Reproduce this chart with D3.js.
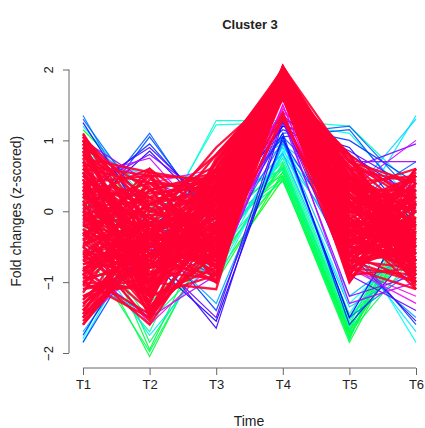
<!DOCTYPE html>
<html>
<head>
<meta charset="utf-8">
<script src="https://cdn.jsdelivr.net/npm/d3@7"></script>
<style>
  body { margin: 0; background: #fff; }
  text { font-family: "Liberation Sans", Arial, Helvetica, sans-serif; fill: #222; }
</style>
</head>
<body>
<div id="chart"></div>
<script>
// time points
const timePoints = ['T1', 'T2', 'T3', 'T4', 'T5', 'T6'];
const yTicks = [-2, -1, 0, 1, 2];

// low membership profiles: [membership, T1..T6]
const outerProfiles = [
  [0.01, -0.1, -0.6, -0.9, 0.45, -1.8, 0.1],
  [0.02, 0.3, -0.2, -0.7, 0.5, -1.75, -0.2],
  [0.03, 1.15, 0.2, -0.2, 0.62, -1.7, -0.3],
  [0.04, -0.4, 0.1, -1.0, 0.55, -1.7, 0.3],
  [0.05, -0.3, -2.05, -0.2, 0.45, -1.85, -0.1],
  [0.06, 0.2, -1.95, 0.0, 0.5, -1.78, 0.2],
  [0.07, 0.0, -0.5, -0.5, 0.6, -1.65, -0.1],
  [0.08, 0.25, -1.85, -0.4, 0.55, -1.72, -0.6],
  [0.09, -0.5, -1.98, -0.3, 0.42, -1.68, -0.4],
  [0.10, 0.95, -0.15, -0.55, 0.65, -1.62, -0.3],
  [0.11, -0.6, -0.3, -0.8, 0.68, -1.6, 0.2],
  [0.12, -0.2, -1.55, -0.6, 0.48, -1.82, 0.45],
  [0.13, 0.6, -0.9, 0.1, 0.6, -1.5, -0.5],
  [0.14, -0.6, -1.7, 0.2, 0.58, -1.65, -0.2],
  [0.15, 0.1, -1.3, -0.3, 0.7, -1.55, 0.0],
  [0.16, 0.2, -0.8, -0.6, 0.75, -1.5, -0.3],
  [0.18, -0.3, 0.0, -0.9, 0.8, -1.45, 0.0],
  [0.20, 0.5, -0.5, 1.28, 1.28, 1.2, 0.3],
  [0.22, 0.2, -0.4, 1.22, 1.25, 1.1, 0.1],
  [0.24, -1.85, -0.1, -1.0, 0.85, -0.3, -1.85],
  [0.25, -1.8, 0.1, -0.8, 0.9, -1.3, -0.4],
  [0.27, 1.2, 0.1, 0.35, 0.9, -0.2, 1.35],
  [0.28, -0.4, -1.75, -0.6, 0.8, -0.5, -1.7],
  [0.30, 0.8, 0.5, 0.5, 0.95, 0.2, 1.3],
  [0.32, -1.0, -1.45, -0.2, 0.82, -1.35, -0.8],
  [0.33, 1.0, 0.3, 0.45, 1.0, -1.2, -0.5],
  [0.35, -1.7, -0.4, -1.3, 0.95, -0.7, -1.5],
  [0.40, 1.35, -0.3, -0.6, 1.0, -1.5, -0.8],
  [0.42, 1.3, 0.0, 0.45, 1.05, 0.1, 0.7],
  [0.43, -0.1, 1.1, -0.3, 1.1, 1.2, 0.2],
  [0.45, -0.2, 1.05, -0.2, 1.05, 1.15, 0.0],
  [0.46, -1.85, -0.3, -1.4, 1.0, -0.5, -1.6],
  [0.48, 0.2, 0.95, -0.1, 1.2, 1.0, 0.4],
  [0.50, -1.75, -0.2, -0.5, 1.1, -1.6, -0.5],
  [0.52, 1.25, -0.2, 0.3, 1.15, 0.8, 0.2],
  [0.53, -0.2, -0.7, -1.55, 1.05, -1.5, 0.1],
  [0.55, 0.0, 0.85, -0.1, 1.2, 0.9, -0.2],
  [0.60, -1.6, -0.5, -1.65, 1.25, -0.6, -1.55],
  [0.62, 0.3, 0.9, 0.0, 1.3, 0.85, 0.3],
  [0.64, -1.3, -0.6, -1.5, 1.3, -0.9, -1.4],
  [0.66, 0.3, 0.8, 0.1, 1.35, 0.6, 0.95],
  [0.68, -1.5, -0.5, -0.9, 1.28, -1.2, -0.9],
  [0.70, 1.0, 0.4, 0.1, 1.4, 0.7, 0.7],
  [0.72, -0.8, -1.5, -0.9, 1.35, -1.3, -1.0],
  [0.74, 0.5, 0.75, -0.3, 1.45, 0.3, 1.0],
  [0.78, -1.55, -0.7, -1.0, 1.5, -0.8, -1.3],
  [0.80, 0.9, 0.4, 0.6, 1.55, 0.6, 0.3],
  [0.82, -0.4, -1.6, -0.7, 1.5, -0.8, -1.2]
];

// core profiles (high membership): T1..T6
const coreProfiles = [
  [0.9, -0.3, 0.2, 1.9, 0.4, -0.5],
  [-1.2, -0.8, -0.5, 2.0, -0.6, -0.2],
  [0.4, 0.5, -0.8, 1.8, 0.1, 0.3],
  [-0.6, -1.4, 0.3, 1.95, -0.9, -0.8],
  [1.05, 0.1, -0.2, 1.7, 0.6, -0.4],
  [-1.5, -0.2, -0.7, 2.02, -0.3, 0.5],
  [0.2, -0.9, 0.6, 1.85, -0.7, -1.0],
  [-0.9, 0.4, -0.1, 1.6, 0.8, 0.1],
  [0.7, -1.2, -0.9, 2.0, -0.2, -0.6],
  [-0.1, 0.0, 0.8, 1.75, 0.3, 0.6],
  [-1.6, -0.5, -0.3, 1.9, -0.8, -0.4],
  [0.5, -0.5, 0.1, 2.04, 0.5, -1.1],
  [-0.4, 0.6, -0.6, 1.3, -0.5, 0.2],
  [1.0, -1.0, 0.4, 1.95, 0.0, -0.9],
  [-1.0, -0.6, -1.0, 1.85, 0.7, -0.1],
  [0.0, -1.3, 0.5, 1.7, -1.0, 0.4],
  [-0.7, 0.3, 0.0, 2.0, -0.4, -0.7],
  [0.8, -0.1, -0.5, 1.65, 0.2, 0.0],
  [-1.3, -0.6, 0.2, 1.9, -0.1, -0.5],
  [0.3, 0.2, -0.4, 2.03, -0.9, 0.3],
  [-0.2, -0.7, 0.7, 1.8, 0.4, -0.3],
  [1.1, -0.4, -0.7, 1.35, -0.6, -1.0],
  [-0.8, -1.6, -0.2, 1.95, 0.1, 0.5],
  [0.6, 0.4, 0.3, 1.9, 0.6, -0.2],
  [-1.4, -0.3, -0.8, 1.7, -0.7, -0.8],
  [0.1, -1.0, -1.1, 2.0, 0.3, 0.0],
  [-0.5, 0.1, 0.5, 1.85, -0.2, -1.1],
  [0.95, -0.8, 0.0, 1.6, -0.8, 0.6],
  [-1.1, -0.8, -0.6, 2.05, 0.5, -0.6],
  [0.35, -0.2, 0.9, 1.75, 0.0, -0.4],
  [-0.3, -0.9, -0.3, 1.9, -1.0, 0.2],
  [0.75, 0.55, -0.9, 1.8, 0.8, -0.7],
  [-1.55, -0.5, 0.1, 1.65, 0.2, -0.3],
  [0.15, -1.45, -0.5, 1.95, -0.5, 0.1],
  [-0.9, -0.1, 0.6, 2.0, -0.3, -0.9],
  [0.55, -0.6, -0.2, 1.85, 0.7, 0.4],
  [-0.15, 0.35, -1.0, 1.7, -0.6, -0.5],
  [-1.25, -0.4, 0.4, 1.9, 0.4, 0.0],
  [1.0, 0.0, 0.2, 2.02, -0.1, -0.8],
  [-0.6, -0.4, -0.4, 1.4, -0.9, 0.5],
  [0.45, -1.1, 0.7, 1.95, 0.1, -1.0],
  [-0.35, 0.5, -0.7, 1.8, 0.5, -0.2],
  [-1.45, -0.6, -0.1, 2.0, -0.4, 0.3],
  [0.25, -0.3, 0.5, 1.6, -0.7, -0.6],
  [0.85, -1.4, -0.6, 1.9, 0.3, 0.2],
  [-0.05, 0.2, 0.1, 1.75, 0.8, -0.9],
  [-1.0, -1.5, 0.6, 1.95, -0.2, -0.4],
  [0.65, -0.7, -0.9, 2.03, -0.6, 0.6],
  [-0.45, -0.2, -0.2, 1.65, 0.0, -0.1],
  [-1.35, 0.1, 0.3, 1.85, 0.6, -0.7],
  [0.05, -1.2, -0.8, 1.9, -0.8, -0.3],
  [0.9, 0.3, 0.5, 1.7, 0.2, 0.0],
  [-0.75, -0.5, -0.5, 2.0, 0.4, -1.05],
  [0.4, -1.0, 0.0, 1.8, -0.3, 0.4],
  [-0.25, -1.35, -0.6, 1.6, -0.5, -0.6],
  [-1.5, -0.4, 0.5, 1.95, -0.7, 0.1],
  [0.7, 0.0, -0.3, 1.85, 0.5, -0.5],
  [-0.85, 0.45, 0.2, 1.75, -0.1, -0.8],
  [0.3, -0.6, -0.7, 2.04, 0.7, 0.2],
  [-0.55, -1.25, 0.4, 1.9, 0.0, -0.2],
  [1.05, -0.5, 0.3, 1.8, -0.4, -0.3],
  [-0.95, -0.15, -0.9, 1.95, 0.3, 0.3],
  [0.2, 0.6, -0.1, 1.7, -0.8, -0.9],
  [-1.2, -1.0, 0.7, 2.0, 0.6, -0.4],
  [0.55, -1.5, -0.4, 1.85, -0.2, 0.5],
  [-0.1, -0.3, 0.6, 1.6, 0.1, -1.0],
  [0.8, 0.2, -1.0, 1.9, -0.6, 0.1],
  [-0.65, -0.8, 0.1, 1.75, 0.8, -0.6],
  [-1.6, -0.3, -0.5, 1.95, -0.3, -0.1],
  [0.35, 0.1, 0.5, 2.02, 0.4, -0.7],
  [-0.3, -1.4, -0.2, 1.65, -0.9, 0.4],
  [0.6, -0.35, 0.8, 1.85, 0.0, -0.2],
  [-1.05, 0.3, -0.6, 1.9, 0.5, -0.9],
  [0.0, -0.65, -0.3, 2.0, -0.5, 0.6],
  [1.0, -1.1, 0.2, 1.7, 0.3, -0.5],
  [-0.5, 0.55, 0.4, 1.8, -0.7, 0.0],
  [-1.4, -0.45, -1.0, 1.95, 0.2, -0.3],
  [0.45, -0.95, 0.0, 1.6, 0.6, -1.0],
  [-0.2, -0.05, -0.8, 2.03, -0.1, 0.3],
  [0.75, -1.3, 0.6, 1.9, -0.4, -0.6],
  [-0.8, -0.7, 0.3, 1.75, 0.0, 0.5],
  [0.1, 0.4, -0.5, 1.85, 0.75, -0.8],
  [-0.5, -1.55, 0.1, 2.0, -0.6, -0.2],
  [0.95, 0.05, -0.6, 1.65, -0.3, 0.2],
  [-0.4, -1.05, 0.75, 1.95, 0.45, -0.4],
  [0.5, -0.25, -0.1, 1.8, -0.8, -1.1],
  [-1.15, 0.2, 0.5, 1.7, -0.2, 0.1],
  [0.25, -0.85, -0.95, 2.04, 0.2, -0.5],
  [-0.7, -0.4, 0.0, 1.9, 0.6, 0.4],
  [0.65, 0.5, 0.45, 1.6, -0.5, -0.7],
  [-1.5, -0.6, -0.4, 1.85, -0.95, 0.0],
  [-0.05, -1.15, 0.2, 2.0, 0.1, -0.9],
  [0.85, -0.55, -0.7, 1.75, 0.4, 0.5],
  [-0.6, 0.1, 0.65, 1.95, -0.6, -0.3],
  [0.15, -1.35, -0.25, 1.7, 0.7, 0.1],
  [-1.0, -0.25, -0.75, 2.02, -0.25, -0.6],
  [0.4, 0.25, 0.35, 1.8, -0.75, -0.15],
  [-0.25, -0.75, -0.45, 1.9, 0.55, -0.85],
  [1.08, -0.2, 0.55, 1.65, 0.05, 0.35],
  [-0.9, -1.45, -0.15, 1.85, -0.45, 0.25],
  [0.6, -0.45, 0.1, 2.0, 0.35, -0.45],
  [-1.45, 0.0, 0.25, 1.75, 0.15, -0.75],
  [0.3, -1.05, -0.6, 1.9, -0.65, 0.55],
  [-0.35, 0.3, 0.55, 1.6, 0.65, -0.25],
  [0.9, -0.9, -0.35, 2.03, -0.15, -0.95],
  [-0.75, -0.35, 0.15, 1.8, -0.85, 0.15],
  [0.05, 0.15, -0.65, 1.95, 0.25, -0.35],
  [-1.2, -0.7, 0.45, 1.7, 0.5, 0.05],
  [0.5, -0.15, -0.05, 1.85, -0.35, -0.65],
  [-0.15, -1.2, 0.35, 2.0, 0.0, 0.45],
  [-0.2, -0.4, -0.1, 1.9, -0.3, -0.4],
  [-0.7, -0.9, -0.4, 1.8, -0.5, -0.6],
  [0.1, -0.6, 0.2, 1.95, -0.1, -0.5],
  [-1.0, -1.1, -0.3, 2.0, -0.4, -0.3],
  [-0.4, -0.2, -0.6, 1.7, 0.2, -0.7],
  [0.3, -0.8, -0.2, 1.85, -0.6, 0.0],
  [-0.9, -0.3, 0.0, 1.9, 0.1, -0.55],
  [-0.1, -1.0, -0.5, 2.02, -0.2, -0.2],
  [-1.3, -0.6, -0.2, 1.75, -0.5, -0.8],
  [0.6, -0.1, -0.4, 1.95, 0.3, -0.3],
  [-0.5, -1.2, 0.1, 1.8, -0.8, -0.45],
  [-0.8, -0.5, -0.55, 1.9, 0.0, 0.2],
  [0.2, -0.3, 0.3, 2.0, -0.4, -0.75],
  [-1.1, -0.95, -0.35, 1.85, 0.35, -0.15],
  [-0.3, -0.55, -0.75, 1.95, -0.3, -0.95],
  [0.45, -0.75, 0.15, 1.7, 0.1, -0.35],
  [-0.65, -0.15, -0.25, 2.03, -0.7, -0.5],
  [-1.4, -0.2, 0.0, 1.9, -0.15, -0.65],
  [0.0, -0.4, -0.85, 1.8, 0.45, 0.0],
  [-0.45, -1.0, 0.25, 1.95, -0.55, -0.25],
  [0.8, -0.6, -0.15, 1.85, -0.25, -0.55],
  [-0.95, -0.75, 0.35, 2.0, 0.25, -0.85],
  [-0.2, 0.05, -0.45, 1.75, -0.45, 0.1],
  [-1.25, -0.35, -0.65, 1.9, 0.05, -0.45],
  [0.35, -1.15, -0.35, 2.02, -0.35, -0.1],
  [-0.6, -0.65, 0.5, 1.85, 0.15, -0.7],
  [-0.05, -0.9, -0.15, 1.7, -0.65, -0.35],
  [-0.85, -0.05, -0.05, 1.95, -0.05, -0.6],
  [0.55, -0.45, -0.55, 1.8, -0.15, -0.15],
  [-1.05, -1.1, 0.05, 1.9, -0.35, 0.05]
];

const svgWidth = 425, svgHeight = 428;

const svg = d3.select('#chart')
  .append('svg')
  .attr('width', svgWidth)
  .attr('height', svgHeight);

// soften the lines a little, the original is a resampled bitmap
svg.append('defs').append('filter')
  .attr('id', 'soft')
  .append('feGaussianBlur')
  .attr('stdDeviation', 0.55);

const x = d3.scalePoint()
  .domain(timePoints)
  .range([83, 416]);

const y = d3.scaleLinear()
  .domain([-2, 2])
  .range([353, 69.5]);

// membership -> colour (green, cyan, blue, magenta, red)
const hue = d3.scaleLinear()
  .domain([0, 0.25, 0.5, 0.75, 1])
  .range([120, 180, 232, 290, 348]);
const colour = m => d3.hsl(hue(m), 1, 0.5).toString();

const line = d3.line()
  .x((d, i) => x(timePoints[i]))
  .y(d => y(d));

const lines = svg.append('g').attr('filter', 'url(#soft)');

// outliers first, so the core sits on top
lines.selectAll('path.outer')
  .data(outerProfiles.slice().sort((a, b) => a[0] - b[0]))
  .join('path')
  .attr('class', 'outer')
  .attr('d', d => line(d.slice(1)))
  .attr('fill', 'none')
  .attr('stroke', d => colour(d[0]))
  .attr('stroke-width', 1.2)
  .attr('stroke-opacity', 0.9);

lines.selectAll('path.core')
  .data(coreProfiles)
  .join('path')
  .attr('class', 'core')
  .attr('d', d => line(d))
  .attr('fill', 'none')
  .attr('stroke', colour(1))
  .attr('stroke-width', 2.3)
  .attr('stroke-opacity', 0.92);

// axes, R style
const xAxis = svg.append('g')
  .attr('transform', 'translate(0,368)')
  .call(d3.axisBottom(x).tickSize(7).tickPadding(5));

const yAxis = svg.append('g')
  .attr('transform', 'translate(69,0)')
  .call(d3.axisLeft(y).tickValues(yTicks).tickSize(6).tickFormat(d3.format('d')));

[xAxis, yAxis].forEach(a => {
  a.select('.domain').attr('stroke', '#666');
  a.selectAll('.tick line').attr('stroke', '#666');
  a.selectAll('text').attr('font-size', 13).attr('fill', '#222')
    .style('font-family', '"Liberation Sans", Arial, sans-serif');
});
xAxis.select('.domain').attr('d', `M${x('T1')},0H${x('T6')}`);
yAxis.select('.domain').attr('d', `M0,${y(2)}V${y(-2)}`);

// rotated y tick labels like R's las = 0
yAxis.selectAll('.tick text')
  .attr('x', null)
  .attr('text-anchor', 'middle')
  .attr('transform', 'translate(-21,0) rotate(-90)')
  .attr('dy', '0.35em');

svg.append('text')
  .attr('x', 250).attr('y', 29)
  .attr('text-anchor', 'middle')
  .attr('font-size', 13).attr('font-weight', 'bold')
  .text('Cluster 3');

svg.append('text')
  .attr('x', 249).attr('y', 426)
  .attr('text-anchor', 'middle')
  .attr('font-size', 14)
  .text('Time');

svg.append('text')
  .attr('transform', `translate(21,${y(0)}) rotate(-90)`)
  .attr('text-anchor', 'middle')
  .attr('font-size', 14)
  .text('Fold changes (z-scored)');
</script>
</body>
</html>
